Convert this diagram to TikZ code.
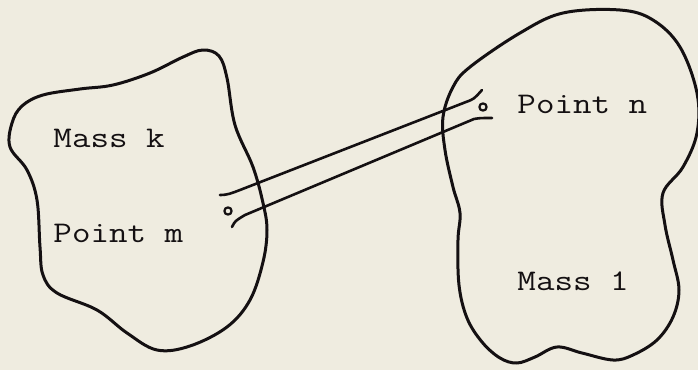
\documentclass[tikz,border=0pt]{standalone}
\usepackage{fontspec}
\usepackage{tikz}
\definecolor{paper}{HTML}{EFECE0}
\definecolor{ink}{HTML}{141012}
\tikzset{
  every picture/.style={line join=round, line cap=round},
  outline/.style={ink, line width=1.5pt},
  link/.style={ink, line width=1.3pt},
  label/.style={ink, anchor=base west, inner sep=0pt, xscale=1.2, transform shape,
    font=\ttfamily\fontsize{15}{18}\selectfont},
  spot/.style={circle, draw=ink, line width=1.1pt, inner sep=0pt, minimum size=3.6pt},
}

\begin{document}
\begin{tikzpicture}[x=0.5pt,y=-0.5pt]
\useasboundingbox (0,0) rectangle (698,370);
\fill[paper] (0,0) rectangle (698,370);
% mass k
\draw[outline] plot[smooth cycle, tension=0.6] coordinates {
  (43,95) (80,89) (113,85) (150,73) (183,57) (203,50) (219,56) (227,78)
  (235,125) (253,167) (263,203) (267,230) (263,262) (250,300) (227,327)
  (190,346) (157,350) (127,333) (97,310) (57,293) (43,275) (40,247)
  (37,200) (27,170) (10,147) (12,123) (22,106)};
% mass l
\draw[outline] plot[smooth cycle, tension=0.6] coordinates {
  (620,10) (563,13) (520,33) (470,67) (453,87) (443,117) (445,150)
  (453,187) (460,213) (458,240) (459,285) (467,318) (482,342) (500,358)
  (517,363) (535,357) (557,347) (582,353) (613,360) (633,355) (657,340)
  (673,317) (679,290) (673,260) (665,225) (663,193) (683,167) (697,133)
  (697,93) (680,47) (653,20)};
\node[label] (massk) at (53,147) {Mass k};
\node[label] (pointm) at (53,242) {Point m};
\node[label] (pointn) at (517,113) {Point n};
\node[label] (massl) at (517,290) {Mass 1};
\node[spot] (m) at (228,211) {};
\node[spot] (n) at (483,107) {};
% the two wires between m and n
\coordinate (mtop) at (220,195);
\coordinate (mbot) at (232,227);
\coordinate (ntop) at (482,90);
\coordinate (nbot) at (492,118);
\draw[link] (mtop) .. controls (228,195) and (232,193) .. (240,190)
  -- (466,102) .. controls (474,99) .. (ntop);
\draw[link] (mbot) .. controls (235,221) .. (245,215)
  -- (474,119) .. controls (480,118) .. (nbot);
\end{tikzpicture}
\end{document}
